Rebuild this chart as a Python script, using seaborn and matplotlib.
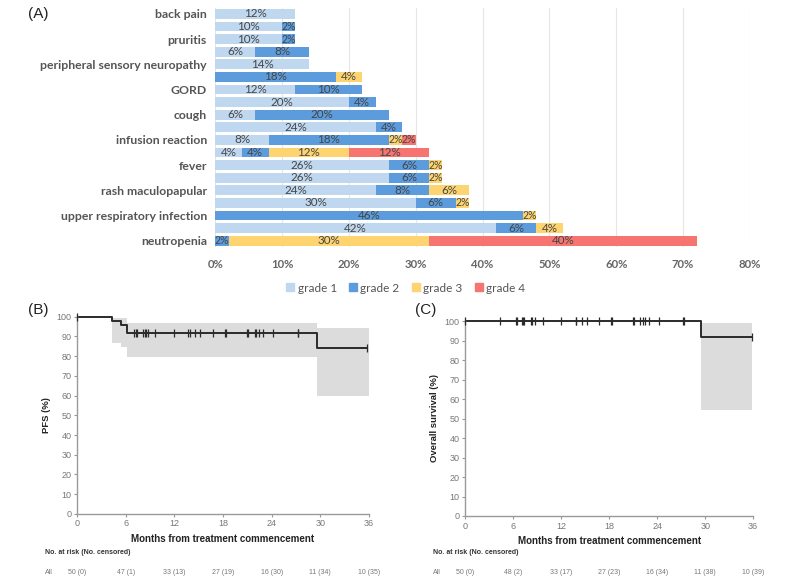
import numpy as np
import seaborn as sns
from matplotlib import pyplot as plt
from matplotlib import transforms
from matplotlib.lines import Line2D

# (A) adverse events, % of patients by grade (one row per bar, top to bottom)
ae_labels = ['back pain', '', 'pruritis', '', 'peripheral sensory neuropathy', '', 'GORD', '',
             'cough', '', 'infusion reaction', '', 'fever', '', 'rash maculopapular', '',
             'upper respiratory infection', '', 'neutropenia']
grade1 = [12, 10, 10, 6, 14, 0, 12, 20, 6, 24, 8, 4, 26, 26, 24, 30, 0, 42, 0]
grade2 = [0, 2, 2, 8, 0, 18, 10, 4, 20, 4, 18, 4, 6, 6, 8, 6, 46, 6, 2]
grade3 = [0, 0, 0, 0, 0, 4, 0, 0, 0, 0, 2, 12, 2, 2, 6, 2, 2, 4, 30]
grade4 = [0, 0, 0, 0, 0, 0, 0, 0, 0, 0, 2, 12, 0, 0, 0, 0, 0, 0, 40]
grade_names = ['grade 1', 'grade 2', 'grade 3', 'grade 4']
grade_colors = ['#bfd7ef', '#5d9cdc', '#fdd470', '#f77571']

# (B) progression free survival
pfs_time = [0, 4.35, 5.4, 6.1, 29.6, 35.8]
pfs_surv = [100, 98, 96, 92, 84, 84]
pfs_ci_time = [4.35, 5.4, 6.1, 29.6, 36]
pfs_ci_low = [86.6, 84.8, 79.5, 59.6, 59.6]
pfs_ci_high = [99.5, 99.5, 96.6, 94.2, 94.2]
pfs_censor = [0, 7.03, 7.23, 7.4, 8.14, 8.38, 8.55, 8.8, 9.6, 12.0, 13.7, 13.9, 14.6, 15.1,
              16.8, 18.3, 18.4, 21.0, 21.1, 21.9, 22.1, 22.4, 22.9, 24.2, 27.2, 27.3, 35.8]
pfs_risk = ['50 (0)', '47 (1)', '33 (13)', '27 (19)', '16 (30)', '11 (34)', '10 (35)']

# (C) overall survival
os_time = [0, 29.5, 35.8]
os_surv = [100, 91.8, 91.8]
os_ci_time = [29.5, 35.9]
os_ci_low = [54.3, 54.3]
os_ci_high = [99.0, 99.0]
os_censor = [0, 4.4, 6.4, 6.5, 7.1, 7.25, 7.4, 8.2, 8.4, 8.7, 9.7, 12.0, 13.8, 13.9, 14.6,
             15.2, 16.75, 18.25, 18.4, 21.0, 21.1, 21.8, 22.2, 22.5, 23.0, 24.2, 27.2, 27.4, 35.8]
os_risk = ['50 (0)', '48 (2)', '33 (17)', '27 (23)', '16 (34)', '11 (38)', '10 (39)']

month_ticks = [0, 6, 12, 18, 24, 30, 36]

sns.set_style("white")
plt.rcParams['font.family'] = ['Liberation Sans', 'DejaVu Sans']

fig = plt.figure(figsize=(8, 5.88), dpi=100)

# ---------------- (A) stacked bars ----------------
ax = fig.add_axes([0.269, 0.58, 0.6685, 0.407])
rows = ['r%02d' % i for i in range(len(ae_labels))]
grades = np.array([grade1, grade2, grade3, grade4], dtype=float)
cum = grades.cumsum(axis=0)
# draw cumulative totals from the longest back, so every grade shows as a segment
for k in range(3, -1, -1):
    sns.barplot(x=cum[k], y=rows, orient='h', color=grade_colors[k], saturation=1,
                width=0.78, linewidth=0, ax=ax)
for k in range(4):
    for i in range(len(rows)):
        v = grades[k, i]
        if v > 0:
            # tiny 2% segments are narrower than their label, keep them from colliding
            fs = 8.4 if v > 2 else 7.6
            ax.text(cum[k, i] - v / 2, i, '%d%%' % v, ha='center', va='center',
                    fontsize=fs, color='#454545', family='Lato')
ax.set_xlim(0, 80)
ax.set_xticks(range(0, 81, 10))
ax.set_xticklabels(['%d%%' % t for t in range(0, 81, 10)], fontsize=8.2, fontweight='bold',
                   color='#666666', family='Lato')
ax.set_yticks(range(len(rows)))
ax.set_yticklabels(ae_labels, fontsize=8.8, fontweight='bold', color='#555555', family='Lato')
ax.tick_params(axis='both', length=0)
ax.tick_params(axis='x', pad=9)
ax.tick_params(axis='y', pad=6)
ax.set_xlabel('')
ax.set_ylabel('')
ax.xaxis.grid(True, color='#e6e6e6', lw=0.8)
ax.set_axisbelow(True)
for s in ax.spines.values():
    s.set_visible(False)
handles = [Line2D([], [], marker='s', ls='', color=c, markersize=5.5) for c in grade_colors]
leg = fig.legend(handles, grade_names, loc='center', bbox_to_anchor=(0.506, 0.51), ncol=4,
                 frameon=False, handletextpad=0.1, columnspacing=0.9, handlelength=1.0,
                 prop={'family': 'Lato', 'size': 8.5})
for t in leg.get_texts():
    t.set_color('#555555')
fig.text(0.035, 0.976, '(A)', fontsize=11, va='center', color='#222222')


# ---------------- KM panels ----------------
def km_panel(rect, times, surv, ci_t, ci_lo, ci_hi, censor, risk, ylabel, tag, tag_xy, table_x):
    ax = fig.add_axes(rect)
    ax.fill_between(ci_t, ci_lo, ci_hi, step='post', color='#dcdcdc', lw=0)
    sns.lineplot(x=times, y=surv, drawstyle='steps-post', color='#2b2b2b', lw=1.4,
                 estimator=None, ax=ax)
    t_arr = np.array(times)
    s_arr = np.array(surv)
    cy = s_arr[np.searchsorted(t_arr, censor, side='right') - 1]
    sns.scatterplot(x=censor, y=cy, marker='|', s=40, color='#2b2b2b', linewidth=0.9,
                    ax=ax, zorder=4, clip_on=False)
    ax.set_xlim(0, 36)
    ax.set_ylim(0, 100.5)
    ax.set_xticks(month_ticks)
    ax.set_yticks(range(0, 101, 10))
    ax.tick_params(axis='both', labelsize=6.5, labelcolor='#777777', color='#999999',
                   length=2.5, width=0.8, pad=1.5, direction='out', bottom=True, left=True)
    for s in ['top', 'right']:
        ax.spines[s].set_visible(False)
    for s in ['left', 'bottom']:
        ax.spines[s].set_color('#9a9a9a')
        ax.spines[s].set_linewidth(1.0)
    ax.set_ylabel(ylabel, fontsize=6.8, fontweight='bold', color='#222222', labelpad=4)
    ax.set_xlabel('Months from treatment commencement', fontsize=7, fontweight='bold',
                  color='#222222', labelpad=4)
    fig.text(tag_xy[0], tag_xy[1], tag, fontsize=11, va='center', color='#222222')
    trans = transforms.blended_transform_factory(ax.transData, fig.transFigure)
    fig.text(table_x, 1 - 553 / 588, 'No. at risk (No. censored)', fontsize=5,
             fontweight='bold', color='#333333', va='center')
    fig.text(table_x, 1 - 572 / 588, 'All', fontsize=5, color='#777777', va='center')
    for m, r in zip(month_ticks, risk):
        ax.text(m, 1 - 572 / 588, r, transform=trans, fontsize=5, color='#777777',
                ha='center', va='center')
    return ax


km_panel([0.0963, 0.126, 0.365, 0.337], pfs_time, pfs_surv, pfs_ci_time, pfs_ci_low,
         pfs_ci_high, pfs_censor, pfs_risk, 'PFS (%)', '(B)', (0.035, 0.473), 0.056)
km_panel([0.5815, 0.1225, 0.36, 0.3325], os_time, os_surv, os_ci_time, os_ci_low,
         os_ci_high, os_censor, os_risk, 'Overall survival (%)', '(C)', (0.519, 0.473), 0.541)

fig.savefig('out.png', dpi=100)
